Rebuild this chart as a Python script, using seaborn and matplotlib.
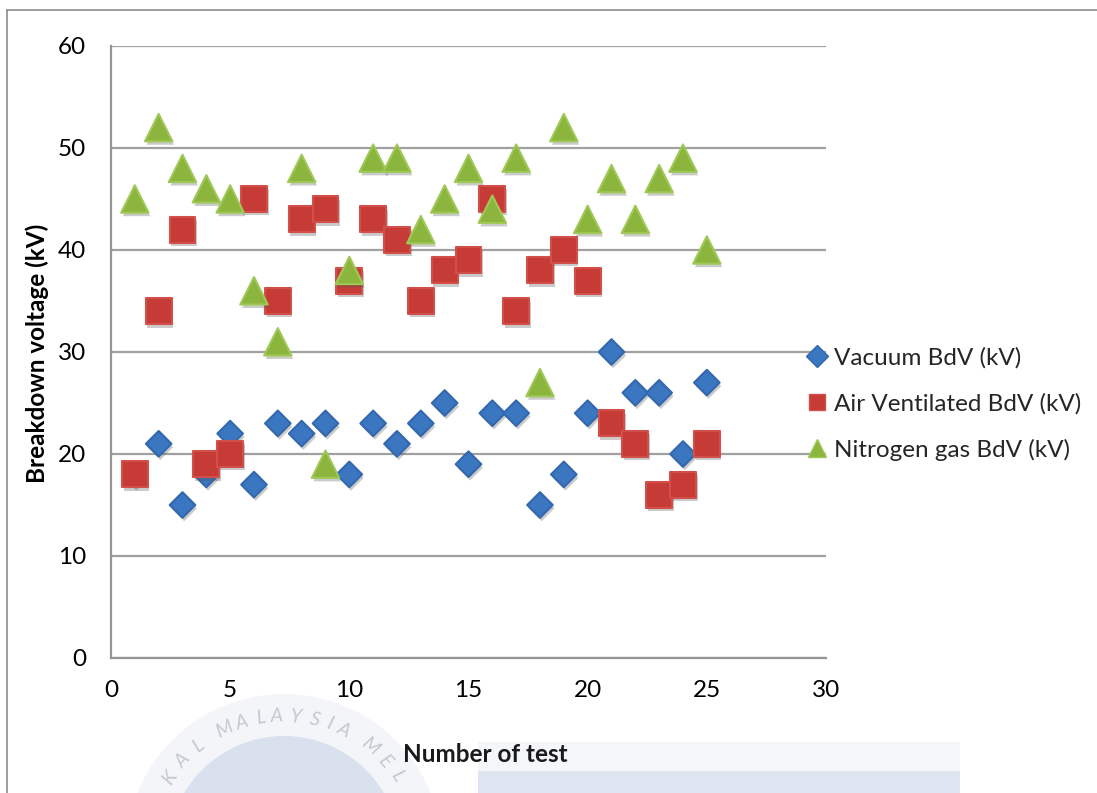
import numpy as np
import pandas as pd
import matplotlib
matplotlib.use("Agg")
import matplotlib.pyplot as plt
import matplotlib.patheffects as pe
from matplotlib.patches import Rectangle, Circle
from matplotlib.lines import Line2D
import seaborn as sns

# Breakdown voltage measurements per test number
tests = list(range(1, 26))
vacuum_bdv = [18, 21, 15, 18, 22, 17, 23, 22, 23, 18, 23, 21, 23, 25, 19,
              24, 24, 15, 18, 24, 30, 26, 26, 20, 27]
air_bdv = [18, 34, 42, 19, 20, 45, 35, 43, 44, 37, 43, 41, 35, 38, 39,
           45, 34, 38, 40, 37, 23, 21, 16, 17, 21]
nitrogen_bdv = [45, 52, 48, 46, 45, 36, 31, 48, 19, 38, 49, 49, 42, 45, 48,
                44, 49, 27, 52, 43, 47, 43, 47, 49, 40]
series_names = ["Vacuum BdV (kV)", "Air Ventilated BdV (kV)", "Nitrogen gas BdV (kV)"]

x_ticks = [0, 5, 10, 15, 20, 25, 30]
y_ticks = [0, 10, 20, 30, 40, 50, 60]

df = pd.DataFrame({
    "test": tests * 3,
    "bdv": vacuum_bdv + air_bdv + nitrogen_bdv,
    "series": [series_names[0]] * 25 + [series_names[1]] * 25 + [series_names[2]] * 25,
})

face = {series_names[0]: "#3B76C0", series_names[1]: "#C73B37", series_names[2]: "#8CB53D"}
edge = {series_names[0]: "#3468AE", series_names[1]: "#D2504B", series_names[2]: "#9FC857"}
mark = {series_names[0]: "D", series_names[1]: "s", series_names[2]: "^"}
msize = {series_names[0]: 170, series_names[1]: 350, series_names[2]: 390}

sns.set_theme(style="white")
plt.rcParams["font.family"] = ["Lato", "DejaVu Sans"]

W, H = 1097, 793
fig = plt.figure(figsize=(W / 100, H / 100), dpi=100)
fig.patch.set_facecolor("white")

# faint watermark in the lower part of the page
wm = fig.add_axes([0, 0, 1, 1], zorder=0)
wm.set_xlim(0, W)
wm.set_ylim(H, 0)
wm.axis("off")
cx, cy = 284, 852
wm.add_patch(Circle((cx, cy), 158, facecolor="#F4F5F8", edgecolor="none"))
wm.add_patch(Circle((cx, cy), 116, facecolor="#D9E0EE", edgecolor="none"))
wm.add_patch(Rectangle((478, 742), 482, 29, facecolor="#F4F6F9", edgecolor="none"))
wm.add_patch(Rectangle((478, 771), 482, 30, facecolor="#DEE4F0", edgecolor="none"))
ring_r = 136
ring_letters = [("K", 147), ("A", 138), ("L", 129), ("M", 116), ("A", 108), ("L", 100),
                ("A", 93), ("Y", 85), ("S", 77), ("I", 70.5), ("A", 64), ("M", 51),
                ("E", 42), ("L", 34)]
for ch, deg in ring_letters:
    ang = np.deg2rad(deg)
    wm.text(cx + ring_r * np.cos(ang), cy - ring_r * np.sin(ang), ch,
            rotation=deg - 90, ha="center", va="center",
            fontsize=14, color="#C4C8D1", fontstyle="italic")

# outer chart-area border
wm.plot([7, 7], [10, H + 5], color="#8C8C8C", lw=1.2)
wm.plot([7, W + 5], [10, 10], color="#8C8C8C", lw=1.2)

left, right, top, bottom = 111, 826, 46, 658
ax = fig.add_axes([left / W, 1 - bottom / H, (right - left) / W, (bottom - top) / H], zorder=2)
ax.patch.set_alpha(0)

shadow = [pe.SimplePatchShadow(offset=(1.2, -2.5), shadow_rgbFace="#555555", alpha=0.3), pe.Normal()]
for name in series_names:
    sub = df[df["series"] == name]
    sns.scatterplot(data=sub, x="test", y="bdv", ax=ax, marker=mark[name], s=msize[name],
                    color=face[name], edgecolor=edge[name], linewidth=1.5, legend=False,
                    zorder=3, path_effects=shadow)

ax.set_xlim(0, 30)
ax.set_ylim(0, 60)
ax.set_xticks(x_ticks)
ax.set_yticks(y_ticks)
ax.tick_params(axis="both", length=0, labelsize=17.5, colors="black")
ax.tick_params(axis="x", pad=16)
ax.tick_params(axis="y", pad=18)
ax.yaxis.grid(True, color="#A0A0A0", lw=1.6)
ax.xaxis.grid(False)
ax.set_axisbelow(True)
for s in ["top", "right"]:
    ax.spines[s].set_visible(False)
for s in ["left", "bottom"]:
    ax.spines[s].set_color("#959595")
    ax.spines[s].set_linewidth(1.6)
ax.set_xlabel("")
ax.set_ylabel("")

fig.text(37 / W, 1 - 353 / H, "Breakdown voltage (kV)", rotation=90, ha="center", va="center",
         fontsize=17.5, fontweight="bold", color="black")
fig.text(485 / W, 1 - 755 / H, "Number of test", ha="center", va="center",
         fontsize=17.5, fontweight="bold", color="#1A1A1A")

handles = [Line2D([], [], marker=mark[n], linestyle="none", markersize=11 if n != series_names[2] else 13,
                  markerfacecolor=face[n], markeredgecolor=edge[n], markeredgewidth=1) for n in series_names]
leg = fig.legend(handles, series_names, loc="center left", bbox_to_anchor=(793 / W, 1 - 404 / H),
                 frameon=False, fontsize=17.5, handletextpad=0.1, labelspacing=1.0,
                 handlelength=1.2, borderaxespad=0)

fig.savefig("out.png", dpi=100, facecolor="white")
